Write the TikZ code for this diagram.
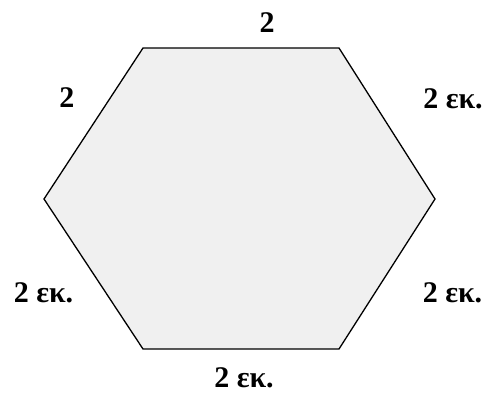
\documentclass[tikz,border=0pt]{standalone}
\usepackage{fontspec}
\setmainfont{Liberation Serif}
\definecolor{hexfill}{HTML}{F0F0F0}
\tikzset{lbl/.style={font=\bfseries\fontsize{30}{34}\selectfont, inner sep=0pt}}
\begin{document}
\begin{tikzpicture}[x=1pt,y=-1pt]
\useasboundingbox (0,0) rectangle (488,394);
\coordinate (A) at (143,48);
\coordinate (B) at (339,48);
\coordinate (C) at (435,199);
\coordinate (D) at (339,349);
\coordinate (E) at (143,349);
\coordinate (F) at (44,199);
\filldraw[fill=hexfill, draw=black, line width=1.3pt, line join=miter] (A) -- (B) -- (C) -- (D) -- (E) -- (F) -- cycle;
\node[lbl] (t) at (267,22.5) {2};
\node[lbl] (tl) at (67,98) {2};
\node[lbl] (tr) at (453,99) {2 εκ.};
\node[lbl] (br) at (452.5,292.5) {2 εκ.};
\node[lbl] (b) at (244,378) {2 εκ.};
\node[lbl] (bl) at (43.5,293) {2 εκ.};
\end{tikzpicture}
\end{document}
